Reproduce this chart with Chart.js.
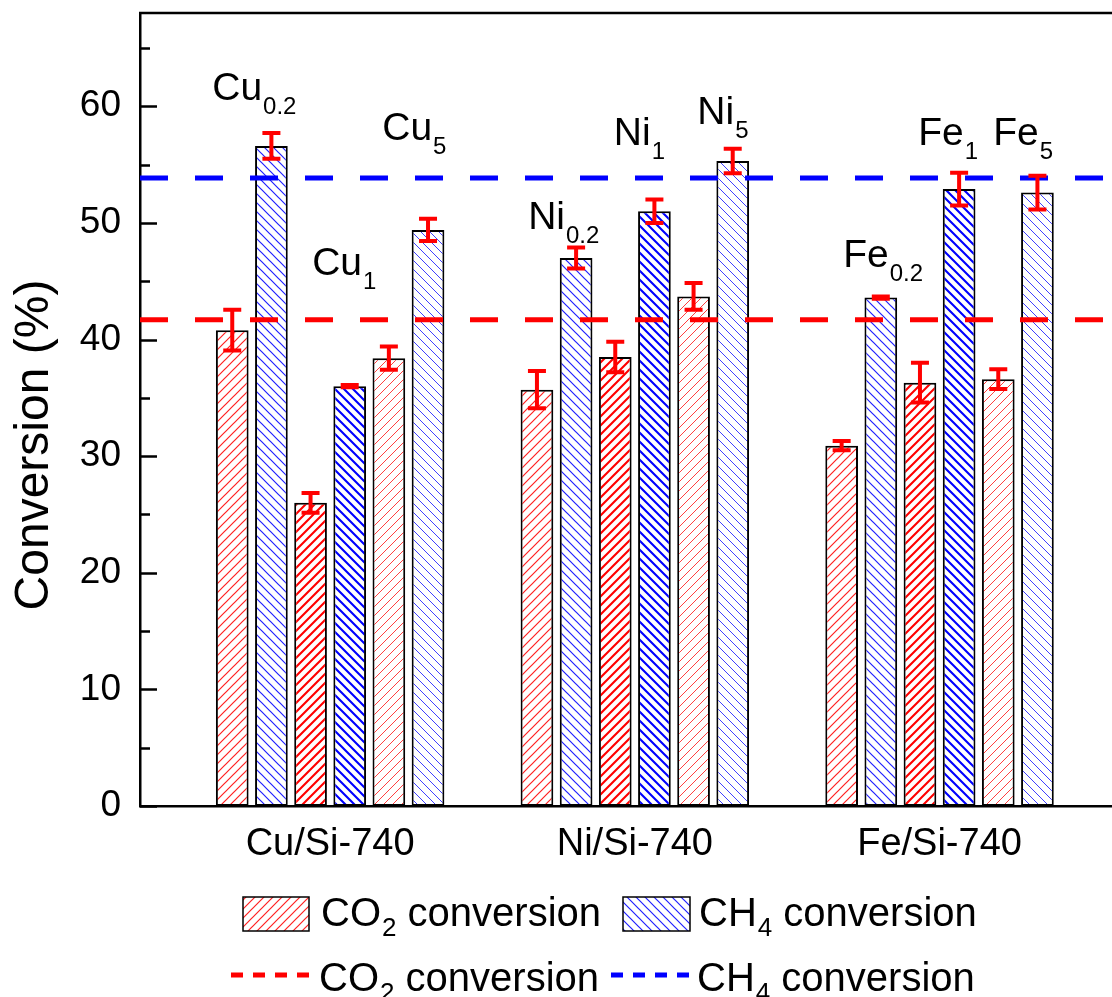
<!DOCTYPE html>
<html>
<head>
<meta charset="utf-8">
<script src="https://cdn.jsdelivr.net/npm/chart.js@4.4.1/dist/chart.umd.min.js"></script>
<style>
  html, body { margin: 0; padding: 0; background: #fff; overflow: hidden; }
  #wrap { width: 1112px; height: 997px; position: relative; }
</style>
</head>
<body>
<div id="wrap"><canvas id="grafico"></canvas></div>
<script>
// categorias (eje x)
const grupos = ['Cu/Si-740', 'Ni/Si-740', 'Fe/Si-740'];

// conversiones (%) por carga, un valor por grupo: Cu, Ni, Fe
const co2_02 = [40.8, 35.7, 30.9];
const ch4_02 = [56.6, 47.0, 43.6];
const co2_1 = [26.0, 38.5, 36.3];
const ch4_1 = [36.0, 51.0, 52.9];
const co2_5 = [38.4, 43.7, 36.6];
const ch4_5 = [49.4, 55.3, 52.6];

// barras de error (+/-)
const co2_02_err = [1.75, 1.6, 0.4];
const ch4_02_err = [1.1, 0.9, 0.1];
const co2_1_err = [0.85, 1.3, 1.7];
const ch4_1_err = [0.1, 1.0, 1.4];
const co2_5_err = [1.0, 1.15, 0.85];
const ch4_5_err = [0.95, 1.05, 1.45];

// lineas de referencia
const co2Ref = 41.7;
const ch4Ref = 53.85;

// ticks del eje y
const yTicks = [0, 10, 20, 30, 40, 50, 60];
const yMinorTicks = [5, 15, 25, 35, 45, 55, 65];

// etiquetas de muestra (texto, subindice, posicion en unidades de datos)
const etiquetas = ['Cu', 'Cu', 'Cu', 'Ni', 'Ni', 'Ni', 'Fe', 'Fe', 'Fe'];
const subindices = ['0.2', '1', '5', '0.2', '1', '5', '0.2', '1', '5'];
const etiquetaX = [0.613, 0.941, 1.171, 1.650, 1.931, 2.205, 2.684, 2.930, 3.176];
const etiquetaY = [60.5, 45.5, 57.1, 49.5, 56.7, 58.5, 46.2, 56.7, 56.7];

const xMin = 0.376, xMax = 3.566, yMax = 68;
const FONT = "'Liberation Sans', Arial, sans-serif";

const canvas = document.getElementById('grafico');
const ctx = canvas.getContext('2d');

function rayado(color, dir, lw) {
    const s = 9;
    const c = document.createElement('canvas');
    c.width = s; c.height = s;
    const g = c.getContext('2d');
    g.fillStyle = '#fff';
    g.fillRect(0, 0, s, s);
    g.strokeStyle = color;
    g.lineWidth = lw;
    g.beginPath();
    if (dir === '/') {
        g.moveTo(-1, s + 1); g.lineTo(s + 1, -1);
        g.moveTo(-1, 1); g.lineTo(1, -1);
        g.moveTo(s - 1, s + 1); g.lineTo(s + 1, s - 1);
    } else {
        g.moveTo(-1, -1); g.lineTo(s + 1, s + 1);
        g.moveTo(-1, s - 1); g.lineTo(1, s + 1);
        g.moveTo(s - 1, -1); g.lineTo(s + 1, 1);
    }
    g.stroke();
    return ctx.createPattern(c, 'repeat');
}

const series = [
    { vals: co2_02, err: co2_02_err, fill: rayado('#ff2020', '/', 1.2) },
    { vals: ch4_02, err: ch4_02_err, fill: rayado('#2020ff', '\\', 1.2) },
    { vals: co2_1, err: co2_1_err, fill: rayado('#ff0000', '/', 2.1) },
    { vals: ch4_1, err: ch4_1_err, fill: rayado('#0000ff', '\\', 2.1) },
    { vals: co2_5, err: co2_5_err, fill: rayado('#ff4040', '/', 1.0) },
    { vals: ch4_5, err: ch4_5_err, fill: rayado('#4040ff', '\\', 1.0) }
];

const datasets = series.map(s => ({
    type: 'bar',
    data: s.vals.map((v, i) => ({ x: i + 1, y: v })),
    backgroundColor: s.fill,
    borderColor: '#000',
    borderWidth: 2,
    borderSkipped: false,
    categoryPercentage: 0.771,
    barPercentage: 0.835,
    order: 0
}));

datasets.push({
    type: 'line',
    data: [{ x: xMin, y: co2Ref }, { x: xMax, y: co2Ref }],
    borderColor: '#ff0000',
    borderWidth: 5,
    borderDash: [28, 27],
    pointRadius: 0,
    fill: false,
    order: -1
});
datasets.push({
    type: 'line',
    data: [{ x: xMin, y: ch4Ref }, { x: xMax, y: ch4Ref }],
    borderColor: '#0000ff',
    borderWidth: 5,
    borderDash: [28, 27],
    pointRadius: 0,
    fill: false,
    order: -1
});

// texto con subindice
function textoSub(g, x, y, a, sub, b, size, subSize, subDy) {
    g.font = size + 'px ' + FONT;
    g.fillText(a, x, y);
    x += g.measureText(a).width + 1;
    g.font = subSize + 'px ' + FONT;
    g.fillText(sub, x, y + subDy);
    x += g.measureText(sub).width;
    if (b) {
        g.font = size + 'px ' + FONT;
        g.fillText(b, x, y);
    }
}

const extras = {
    id: 'extras',
    afterDatasetsDraw(chart) {
        const g = chart.ctx;
        const ys = chart.scales.y;
        // barras de error
        g.save();
        g.strokeStyle = '#ff0000';
        g.lineWidth = 4;
        series.forEach((s, k) => {
            const meta = chart.getDatasetMeta(k);
            meta.data.forEach((bar, i) => {
                const yHi = ys.getPixelForValue(s.vals[i] + s.err[i]);
                const yLo = ys.getPixelForValue(s.vals[i] - s.err[i]);
                g.beginPath();
                g.moveTo(bar.x, yHi); g.lineTo(bar.x, yLo);
                g.moveTo(bar.x - 9, yHi); g.lineTo(bar.x + 9, yHi);
                g.moveTo(bar.x - 9, yLo); g.lineTo(bar.x + 9, yLo);
                g.stroke();
            });
        });
        g.restore();
    },
    afterDraw(chart) {
        const g = chart.ctx;
        const a = chart.chartArea;
        const xs = chart.scales.x, ys = chart.scales.y;
        g.save();
        // marco superior
        g.strokeStyle = '#000';
        g.lineWidth = 2.5;
        g.beginPath();
        g.moveTo(a.left - 1, a.top); g.lineTo(a.right + 2, a.top);
        g.stroke();
        // ticks hacia adentro
        g.lineWidth = 2.5;
        g.beginPath();
        yTicks.forEach(v => {
            const y = Math.round(ys.getPixelForValue(v)) + 0.5;
            g.moveTo(a.left, y); g.lineTo(a.left + 17, y);
        });
        yMinorTicks.forEach(v => {
            const y = Math.round(ys.getPixelForValue(v)) + 0.5;
            g.moveTo(a.left, y); g.lineTo(a.left + 10, y);
        });
        g.stroke();

        // etiquetas de muestras
        g.fillStyle = '#000';
        g.textAlign = 'left';
        g.textBaseline = 'alphabetic';
        etiquetas.forEach((t, i) => {
            const x = xs.getPixelForValue(etiquetaX[i]);
            const y = ys.getPixelForValue(etiquetaY[i]);
            textoSub(g, x, y, t, subindices[i], '', 39, 24, 14);
        });

        // titulo eje y
        g.save();
        g.translate(48, 445);
        g.rotate(-Math.PI / 2);
        g.textAlign = 'center';
        g.font = '48px ' + FONT;
        g.fillText('Conversion (%)', 0, 0);
        g.restore();

        // leyenda
        g.textAlign = 'left';
        g.lineWidth = 1.5;
        g.fillStyle = series[0].fill;
        g.fillRect(243, 897, 66, 34);
        g.strokeRect(243, 897, 66, 34);
        g.fillStyle = series[1].fill;
        g.fillRect(623, 897, 67, 34);
        g.strokeRect(623, 897, 67, 34);
        g.fillStyle = '#000';
        textoSub(g, 321, 926, 'CO', '2', ' conversion', 40, 26, 10);
        textoSub(g, 699, 926, 'CH', '4', ' conversion', 40, 26, 10);

        g.lineWidth = 5;
        g.setLineDash([12, 10]);
        g.strokeStyle = '#ff0000';
        g.beginPath(); g.moveTo(231, 975); g.lineTo(316, 975); g.stroke();
        g.strokeStyle = '#0000ff';
        g.beginPath(); g.moveTo(611, 975); g.lineTo(696, 975); g.stroke();
        g.setLineDash([]);
        textoSub(g, 319, 991, 'CO', '2', ' conversion', 40, 26, 10);
        textoSub(g, 697, 991, 'CH', '4', ' conversion', 40, 26, 10);
        g.restore();
    }
};

new Chart(ctx, {
    type: 'bar',
    data: { datasets: datasets },
    options: {
        responsive: true,
        maintainAspectRatio: false,
        animation: false,
        layout: { padding: { top: 13, left: 0, right: 0, bottom: 0 } },
        plugins: {
            legend: { display: false },
            tooltip: { enabled: false }
        },
        scales: {
            x: {
                type: 'linear',
                offset: false,
                min: xMin,
                max: xMax,
                grid: { display: false, drawTicks: false, offset: false },
                border: { display: true, color: '#000', width: 2.5 },
                ticks: {
                    padding: 16,
                    maxRotation: 0,
                    color: '#000',
                    font: { family: FONT, size: 38 },
                    callback: (v, i) => grupos[i]
                },
                afterBuildTicks: scale => { scale.ticks = grupos.map((g, i) => ({ value: i + 1 })); },
                afterFit: scale => {
                    scale.height = 191;
                    scale.paddingLeft = 0;
                    scale.paddingRight = 0;
                }
            },
            y: {
                min: 0,
                max: yMax,
                grid: { display: false, drawTicks: false },
                border: { display: true, color: '#000', width: 2.5 },
                ticks: {
                    padding: 19,
                    color: '#000',
                    font: { family: FONT, size: 37 }
                },
                afterBuildTicks: scale => { scale.ticks = yTicks.map(v => ({ value: v })); },
                afterFit: scale => {
                    scale.width = 140;
                    scale.paddingTop = 0;
                    scale.paddingBottom = 0;
                }
            }
        }
    },
    plugins: [extras]
});
</script>
</body>
</html>
